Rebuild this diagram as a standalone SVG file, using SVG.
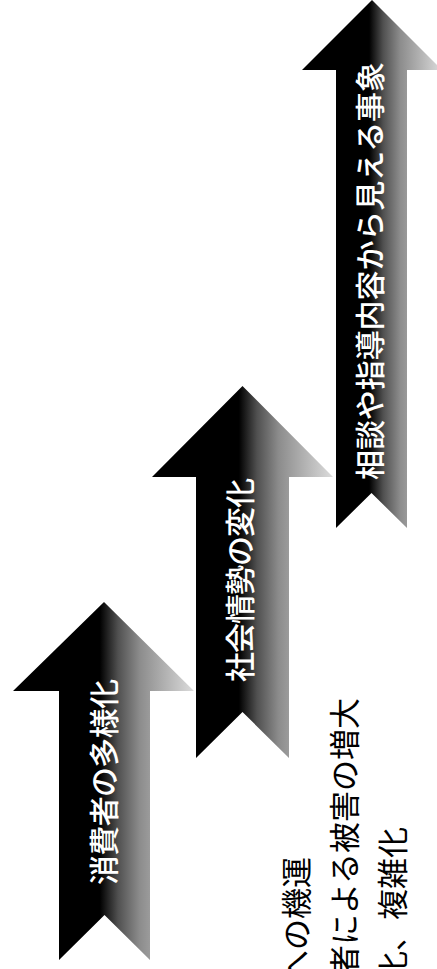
<svg xmlns="http://www.w3.org/2000/svg" width="437" height="969" viewBox="0 0 437 969">
  <defs>
    <linearGradient id="arrowFill" x1="0" y1="0" x2="1" y2="0">
      <stop offset="0" stop-color="#000"/>
      <stop offset="0.48" stop-color="#000"/>
      <stop offset="0.58" stop-color="#505050"/>
      <stop offset="0.7" stop-color="#8c8c8c"/>
      <stop offset="0.85" stop-color="#b4b4b4"/>
      <stop offset="1" stop-color="#dcdcdc"/>
    </linearGradient>
  </defs>
  <style>
    .arrow { fill: url(#arrowFill); stroke: none; }
    .atext { fill: #fff; font-family: "Noto Sans CJK JP", "Noto Sans CJK SC", sans-serif; font-size: 30px; font-weight: 500; dominant-baseline: central; }
    .btext { fill: #000; font-family: "Noto Sans CJK JP", "Noto Sans CJK SC", sans-serif; font-size: 31px; dominant-baseline: central; }
  </style>
  <rect x="0" y="0" width="437" height="969" fill="#fff"/>

  <g id="arrow1">
    <polygon class="arrow" points="104,602 194,691 150,691 150,960 104.5,915 59,960 59,691 13,691"/>
    <text class="atext" transform="translate(102,885) rotate(-90)" textLength="206" lengthAdjust="spacing">消費者の多様化</text>
  </g>

  <g id="arrow2">
    <polygon class="arrow" points="242.5,386 333,477 289,477 289,758 242.5,712 196,758 196,477 152,477"/>
    <text class="atext" transform="translate(238,682) rotate(-90)" textLength="204" lengthAdjust="spacing">社会情勢の変化</text>
  </g>

  <g id="arrow3">
    <polygon class="arrow" points="372,0 442,70 407,70 407,528 371.5,493 336,528 336,70 302,70"/>
    <text class="atext" transform="translate(368,480) rotate(-90)" textLength="418" lengthAdjust="spacing">相談や指導内容から見える事象</text>
  </g>

  <g id="labels">
    <text class="btext" text-anchor="end" transform="translate(294,857) rotate(-90)">への機運</text>
    <text class="btext" text-anchor="end" transform="translate(342,698) rotate(-90)">者による被害の増大</text>
    <text class="btext" text-anchor="end" transform="translate(390,827) rotate(-90)">化、複雑化</text>
  </g>

  <g id="connectors"></g>
</svg>
